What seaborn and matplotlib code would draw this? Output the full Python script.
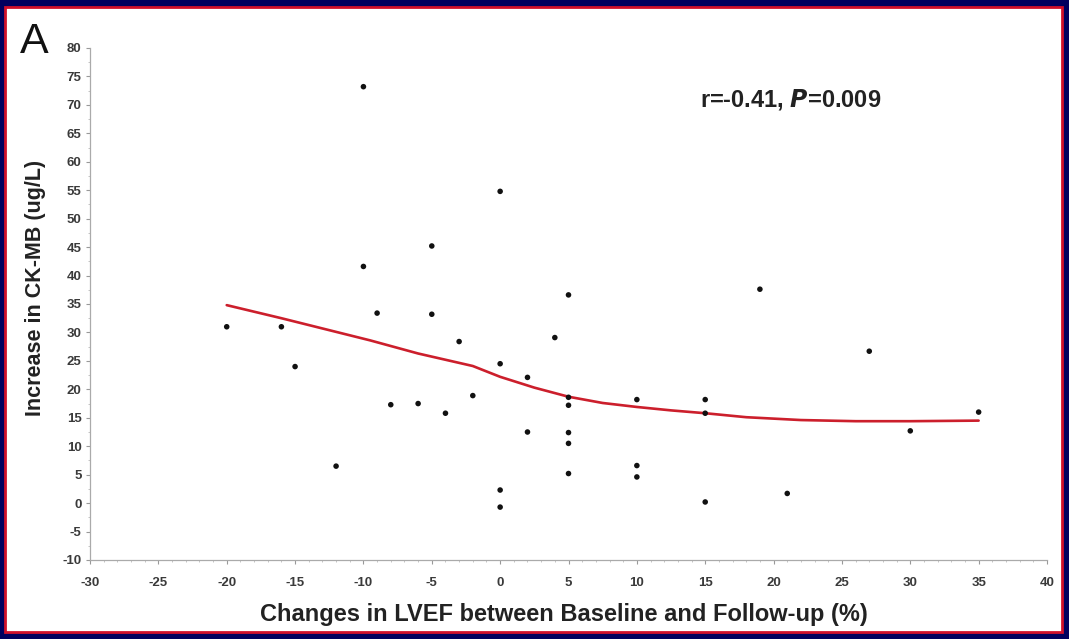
import numpy as np
import pandas as pd
import seaborn as sns
import matplotlib.pyplot as plt
from matplotlib.patches import Rectangle
from matplotlib.ticker import MultipleLocator

# scatter data
lvef_change = [-20, -16, -15, -12, -10, -10, -9, -8, -6, -5, -5, -4, -3, -2,
               0, 0, 0, 0, 2, 2, 4, 5, 5, 5, 5, 5, 5,
               10, 10, 10, 15, 15, 15, 19, 21, 27, 30, 35]
ckmb_increase = [31, 31, 24, 6.5, 73.2, 41.6, 33.4, 17.3, 17.5, 45.2, 33.2, 15.8, 28.4, 18.9,
                 54.8, 24.5, 2.3, -0.7, 22.1, 12.5, 29.1, 36.6, 18.6, 17.2, 12.4, 10.5, 5.2,
                 18.2, 6.6, 4.6, 18.2, 15.8, 0.2, 37.6, 1.7, 26.7, 12.7, 16.0]

# smoothed fit line
fit_x = [-20, -16, -13, -9.5, -6, -2, 0, 2.5, 5, 7.5, 10, 12.5, 15, 18, 22, 26, 30, 35]
fit_y = [34.8, 32.5, 30.7, 28.6, 26.3, 24.1, 22.2, 20.3, 18.7, 17.6, 16.9, 16.3, 15.8, 15.1, 14.6, 14.4, 14.4, 14.5]

x_ticks = list(range(-30, 45, 5))
y_ticks = list(range(-10, 85, 5))

sns.set_style("white")
plt.rcParams['font.family'] = ['Liberation Sans', 'DejaVu Sans']

W, H = 1069, 639
fig = plt.figure(figsize=(W / 100, H / 100), dpi=100)
fig.patch.set_facecolor("#00005e")
fig.patches.append(Rectangle((5 / W, 7 / H), 1057 / W, 625 / H, transform=fig.transFigure,
                             facecolor="white", edgecolor="#d0102a", linewidth=2.0, zorder=-5))

ax = fig.add_axes([90 / W, 1 - 560 / H, (1047 - 90) / W, (560 - 48) / H])
ax.set_facecolor("none")
ax.set_zorder(2)

pts = pd.DataFrame({"x": lvef_change, "y": ckmb_increase})
fit = pd.DataFrame({"x": fit_x, "y": fit_y})
sns.lineplot(data=fit, x="x", y="y", ax=ax, color="#cc1f2c", linewidth=1.9, zorder=2)
sns.scatterplot(data=pts, x="x", y="y", ax=ax, color="#111111", s=16, edgecolor="none", zorder=3)

ax.set_xlim(-30, 40)
ax.set_ylim(-10, 80)
ax.set_xticks(x_ticks)
ax.set_yticks(y_ticks)
ax.xaxis.set_minor_locator(MultipleLocator(1))
ax.yaxis.set_minor_locator(MultipleLocator(2.5))
ax.set_xticklabels([str(t) for t in x_ticks], fontsize=9.5, fontweight="bold", color="#3a3a3a")
ax.set_yticklabels([str(t) for t in y_ticks], fontsize=9.5, fontweight="bold", color="#3a3a3a")
ax.tick_params(axis="both", which="major", length=3, width=0.8, color="#999999", bottom=True, left=True)
ax.tick_params(axis="x", which="major", pad=9)
ax.tick_params(axis="y", which="major", pad=3)
ax.tick_params(axis="both", which="minor", length=1.5, width=0.6, color="#bbbbbb", bottom=True, left=True)

for s in ["top", "right"]:
    ax.spines[s].set_visible(False)
for s in ["left", "bottom"]:
    ax.spines[s].set_color("#aaaaaa")
    ax.spines[s].set_linewidth(0.9)

# axis titles placed where the reference has them
ax.set_xlabel("")
ax.set_ylabel("")
fig.text(564 / W, 1 - 614 / H, "Changes in LVEF between Baseline and Follow-up (%)", fontsize=17,
         fontweight="bold", color="#222222", ha="center", va="center")
fig.text(36 / W, 1 - 288 / H, "Increase in CK-MB (ug/L)", fontsize=15.5, fontweight="bold",
         color="#222222", ha="center", va="center", rotation=90)

fig.text(34 / W, 1 - 53 / H, "A", fontsize=31, ha="center", va="baseline", color="#111111")
fig.text(700 / W, 1 - 100 / H, r"r=-0.41, $\mathbfit{P}$=0.009", fontsize=17, fontweight="bold",
         ha="left", va="center", color="#222222")

fig.savefig("out.png", dpi=100, facecolor=fig.get_facecolor())
